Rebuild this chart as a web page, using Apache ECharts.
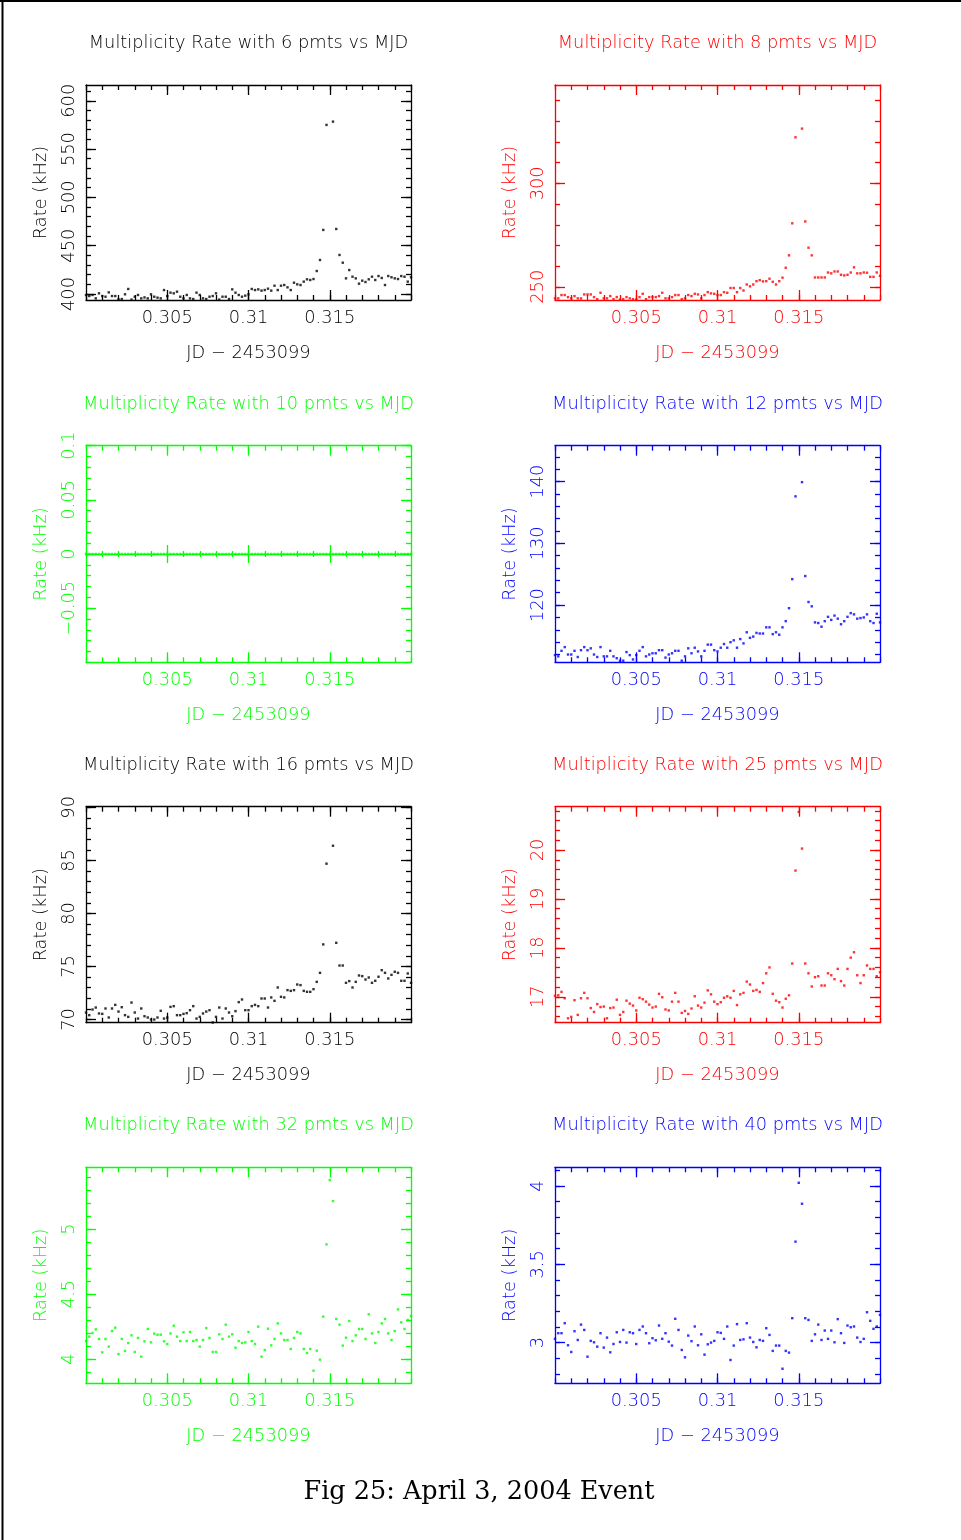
<!DOCTYPE html>
<html><head><meta charset="utf-8">
<script src="https://cdn.jsdelivr.net/npm/echarts@6/dist/echarts.min.js"></script>
<style>html,body{margin:0;padding:0;background:#fff}#c{width:961px;height:1540px}</style>
</head><body><div id="c"></div><script>
// JD - 2453099 (x values, common to all panels)
const jd = [
0.3000,0.3002,0.3004,0.3006,0.3008,0.3010,0.3012,0.3014,0.3016,0.3018,
0.3020,0.3022,0.3024,0.3026,0.3028,0.3030,0.3032,0.3034,0.3036,0.3038,
0.3040,0.3042,0.3044,0.3046,0.3048,0.3050,0.3052,0.3054,0.3056,0.3058,
0.3060,0.3062,0.3064,0.3066,0.3068,0.3070,0.3072,0.3074,0.3076,0.3078,
0.3080,0.3082,0.3084,0.3086,0.3088,0.3090,0.3092,0.3094,0.3096,0.3098,
0.3100,0.3102,0.3104,0.3106,0.3108,0.3110,0.3112,0.3114,0.3116,0.3118,
0.3120,0.3122,0.3124,0.3126,0.3128,0.3130,0.3132,0.3134,0.3136,0.3138,
0.3140,0.3142,0.3144,0.3146,0.3148,0.3150,0.3152,0.3154,0.3156,0.3158,
0.3160,0.3162,0.3164,0.3166,0.3168,0.3170,0.3172,0.3174,0.3176,0.3178,
0.3180,0.3182,0.3184,0.3186,0.3188,0.3190,0.3192,0.3194,0.3196,0.3198,
0.3200];

const rate6 = [
399.0,397.9,399.0,395.5,400.7,397.9,397.2,401.7,397.9,397.9,
394.5,394.8,399.7,405.2,394.2,397.2,399.0,395.5,396.5,395.5,
399.7,397.2,396.2,395.5,404.1,397.9,401.4,400.7,402.4,397.2,
395.5,399.0,395.5,394.8,401.4,399.0,395.5,394.8,397.2,397.9,
400.7,394.2,397.2,397.2,394.8,404.8,401.4,399.0,397.2,398.3,
399.7,405.2,404.1,404.8,403.5,404.1,405.5,403.5,408.6,404.1,
408.6,409.3,406.9,404.1,411.7,410.0,409.3,412.8,415.2,414.5,
415.5,423.8,435.2,466.3,575.0,null,578.4,467.3,440.4,432.4,
416.2,424.8,417.9,416.2,410.7,413.8,412.4,415.2,417.9,414.5,
418.6,416.6,409.3,418.6,417.3,416.2,415.5,418.6,417.9,412.8,
417.3];

const rate8 = [
244.4,244.4,246.0,246.0,245.0,244.4,245.5,244.4,244.4,246.3,
246.3,246.3,245.0,244.0,247.1,244.4,244.4,245.5,244.0,245.0,
243.8,244.0,245.0,244.4,244.0,243.8,245.0,246.6,244.0,245.0,
245.0,245.0,245.5,247.1,244.4,244.4,245.0,246.0,246.0,244.0,
244.4,246.0,245.5,246.6,246.3,244.4,246.0,247.4,246.8,246.6,
246.0,246.0,247.4,247.1,249.4,249.4,247.4,249.4,248.2,251.1,
250.2,251.1,252.7,253.2,252.6,252.7,253.9,252.4,251.1,252.7,
254.4,259.2,265.2,280.7,322.3,null,326.5,281.6,268.9,265.2,
254.5,254.5,254.5,254.5,256.9,256.5,257.4,257.4,255.8,255.5,
255.8,256.9,259.4,256.5,256.5,256.9,256.8,254.8,254.8,256.9,
255.3];

const rate10 = [
0,0,0,0,0,0,0,0,0,0,
0,0,0,0,0,0,0,0,0,0,
0,0,0,0,0,0,0,0,0,0,
0,0,0,0,0,0,0,0,0,0,
0,0,0,0,0,0,0,0,0,0,
0,0,0,0,0,0,0,0,0,0,
0,0,0,0,0,0,0,0,0,0,
0,0,0,0,0,0,0,0,0,0,
0,0,0,0,0,0,0,0,0,0,
0,0,0,0,0,0,0,0,0,0,
0];

const rate12 = [
111.9,111.7,112.6,113.2,112.0,112.0,112.6,111.6,112.7,113.2,
112.7,113.0,112.0,111.6,113.2,111.7,111.7,112.6,111.7,111.4,
111.0,111.0,112.4,111.9,111.2,111.9,112.6,113.2,111.7,112.0,
112.2,112.2,112.7,112.7,111.5,112.0,112.2,112.6,112.6,111.0,
111.7,113.0,112.2,113.1,112.5,111.7,112.6,113.6,113.6,112.7,
112.5,113.1,113.7,113.1,114.0,114.3,113.1,114.5,113.8,115.6,
114.7,114.9,115.5,115.4,115.4,116.4,116.4,115.3,115.6,115.2,
116.4,117.4,119.5,124.2,137.6,null,139.9,124.7,120.5,119.8,
117.2,117.1,116.5,117.4,118.1,117.6,118.3,117.8,116.9,117.4,
118.1,118.7,118.5,117.8,117.9,118.0,118.5,117.4,117.1,118.6,
117.2];

const rate16 = [
70.66,70.41,70.94,71.13,70.57,70.53,71.04,70.19,71.04,71.38,
70.75,71.16,70.41,70.25,71.60,70.66,70.09,71.04,70.31,70.19,
70.00,70.00,70.19,70.82,70.09,70.19,71.19,71.26,70.41,70.41,
70.53,70.60,70.88,71.26,70.09,70.25,70.57,70.75,70.88,69.72,
70.25,71.13,70.09,71.04,70.66,70.31,70.79,71.64,71.89,70.88,
70.88,71.26,71.38,71.26,71.98,71.98,71.13,72.08,71.76,73.02,
72.14,72.08,72.77,72.70,72.77,73.30,73.24,72.70,72.61,72.61,
72.86,73.55,74.40,77.08,84.69,null,86.38,77.23,75.09,75.09,
73.46,73.62,73.02,73.55,74.15,74.09,73.77,73.96,73.46,73.65,
74.03,74.65,74.40,73.87,74.21,74.50,74.40,73.65,73.65,74.34,
73.46];

const rate25 = [
17.02,17.03,17.10,16.97,16.56,16.59,16.93,16.63,16.97,17.08,
16.97,16.77,16.69,16.85,16.79,16.80,16.56,16.77,16.78,16.94,
16.63,16.69,16.92,16.86,16.82,16.72,16.98,16.95,16.90,16.84,
16.78,16.80,17.06,16.99,16.74,16.72,16.90,17.08,16.90,16.67,
16.71,16.65,16.76,17.01,16.82,16.78,16.88,17.13,17.05,16.90,
16.85,16.89,16.98,17.01,16.98,17.12,16.83,17.05,17.08,17.31,
17.25,17.12,17.14,17.10,17.28,17.48,17.60,17.06,16.92,16.89,
16.78,16.96,17.03,17.68,19.58,20.78,20.03,17.68,17.48,17.21,
17.40,17.42,17.23,17.23,17.48,17.44,17.36,17.57,17.32,17.23,
17.57,17.80,17.91,17.44,17.28,17.44,17.64,17.57,17.57,17.42,
17.50];

const rate32 = [
4.138,4.172,4.200,4.228,4.154,4.051,4.154,4.095,4.215,4.241,
4.038,4.154,4.062,4.123,4.182,4.054,4.162,4.018,4.136,4.231,
4.128,4.195,4.187,4.187,4.136,4.115,4.197,4.256,4.172,4.138,
4.205,4.138,4.208,4.138,4.146,4.095,4.146,4.238,4.162,4.054,
4.054,4.190,4.154,4.264,4.172,4.190,4.087,4.138,4.123,4.128,
4.208,4.138,4.115,4.249,4.018,4.069,4.233,4.105,4.154,4.274,
4.197,4.146,4.146,4.077,4.162,4.208,4.197,4.077,4.046,4.077,
3.910,4.064,3.995,4.326,4.882,5.377,5.215,4.308,4.264,4.103,
4.164,4.292,4.138,4.182,4.231,4.231,4.154,4.344,4.197,4.123,
4.208,4.274,4.308,4.197,4.146,4.215,4.382,4.282,4.231,4.300,
4.331];

const rate40 = [
3.024,3.060,3.060,3.124,2.983,2.940,3.073,3.017,3.115,3.081,
2.910,3.011,3.002,2.974,3.060,2.968,3.032,2.938,2.991,3.066,
3.004,3.081,3.000,3.066,3.060,2.991,3.081,3.103,3.060,2.996,
3.028,3.015,3.109,3.024,3.060,3.006,2.981,3.152,3.081,2.953,
2.906,3.045,3.009,3.103,2.983,3.053,2.923,2.989,3.000,3.011,
3.066,3.062,3.024,3.103,2.889,2.981,3.118,3.017,3.021,3.124,
3.032,3.004,2.970,3.017,3.011,3.092,3.049,2.947,2.981,2.981,
2.833,2.947,2.936,3.156,3.645,4.021,3.887,3.156,3.145,3.011,
3.053,3.115,3.017,3.077,3.024,3.077,3.002,3.150,3.060,2.998,
3.109,3.098,3.103,3.032,3.004,3.024,3.194,3.139,3.088,3.103,
3.177];

// tick labels
const xTickValues = [0.305, 0.31, 0.315];
const xTickLabels = ['0.305', '0.31', '0.315'];
const yTicks6 = [400, 450, 500, 550, 600];      const yLabels6 = ['400','450','500','550','600'];
const yTicks8 = [250, 300];                     const yLabels8 = ['250','300'];
const yTicks10 = [-0.05, 0, 0.05, 0.1];         const yLabels10 = ['\u22120.05','0','0.05','0.1'];
const yTicks12 = [120, 130, 140];               const yLabels12 = ['120','130','140'];
const yTicks16 = [70, 75, 80, 85, 90];          const yLabels16 = ['70','75','80','85','90'];
const yTicks25 = [17, 18, 19, 20];              const yLabels25 = ['17','18','19','20'];
const yTicks32 = [4, 4.5, 5];                   const yLabels32 = ['4','4.5','5'];
const yTicks40 = [3, 3.5, 4];                   const yLabels40 = ['3','3.5','4'];

const BLACK = '#000000', RED = '#ff0000', GREEN = '#00ff00', BLUE = '#0000ff';
const panels = [
  {pmts: 6,  color: BLACK, data: rate6,  yMin: 393.8, yMax: 616.3, ticks: yTicks6,  labels: yLabels6,  minor: 10},
  {pmts: 8,  color: RED,   data: rate8,  yMin: 243.6, yMax: 347.6, ticks: yTicks8,  labels: yLabels8,  minor: 10},
  {pmts: 10, color: GREEN, data: rate10, yMin: -0.1,  yMax: 0.1,   ticks: yTicks10, labels: yLabels10, minor: 0.01, zeroAxis: true},
  {pmts: 12, color: BLUE,  data: rate12, yMin: 110.74, yMax: 145.8, ticks: yTicks12, labels: yLabels12, minor: 2},
  {pmts: 16, color: BLACK, data: rate16, yMin: 69.7,  yMax: 90.06, ticks: yTicks16, labels: yLabels16, minor: 1},
  {pmts: 25, color: RED,   data: rate25, yMin: 16.47, yMax: 20.886, ticks: yTicks25, labels: yLabels25, minor: 0.2},
  {pmts: 32, color: GREEN, data: rate32, yMin: 3.813, yMax: 5.475, ticks: yTicks32, labels: yLabels32, minor: 0.1},
  {pmts: 40, color: BLUE,  data: rate40, yMin: 2.74,  yMax: 4.12,  ticks: yTicks40, labels: yLabels40, minor: 0.1}
];

const FONT = 'DejaVu Sans';
const FW = 200;
const FS = 17.8;
const LW = 1.3;
const X_MIN = 0.3, X_MAX = 0.32, X_MINOR = 0.001;
const colLeft = [86, 555];
const rowTop = [85, 445.7, 806.7, 1167.3];
const rowH = [215, 216.6, 216, 216];
const GW = 325;

function minorTicks(min, max, step) {
  const out = [];
  const a = Math.ceil(min / step - 1e-9), b = Math.floor(max / step + 1e-9);
  for (let i = a; i <= b; i++) out.push(+(i * step).toFixed(6));
  return out;
}
function lbl(v, vals, labels) {
  for (let i = 0; i < vals.length; i++) if (Math.abs(v - vals[i]) < 1e-9) return labels[i];
  return '';
}

const grids = [], xAxes = [], yAxes = [], series = [], graphics = [];
const xMinor = minorTicks(X_MIN, X_MAX, X_MINOR);

panels.forEach((p, k) => {
  const row = Math.floor(k / 2), col = k % 2;
  const c = p.color;
  grids.push({left: colLeft[col], top: rowTop[row], width: GW, height: rowH[row], containLabel: false});
  const gi = k;
  const xb = xAxes.length, yb = yAxes.length;
  const line = (show) => ({show, onZero: false, lineStyle: {color: c, width: LW}});
  const tick = (vals, len) => ({show: true, inside: true, length: len, customValues: vals, lineStyle: {color: c, width: LW}});
  const xBase = {type: 'value', gridIndex: gi, min: X_MIN, max: X_MAX, splitLine: {show: false}, axisLabel: {show: false}};
  const txt = {color: c, fontFamily: FONT, fontSize: FS, fontWeight: FW};
  // x axes
  xAxes.push(Object.assign({}, xBase, {
    position: 'bottom', axisLine: line(true), axisTick: tick(xTickValues, 10),
    axisLabel: Object.assign({show: true, customValues: xTickValues, margin: 9,
      formatter: v => lbl(v, xTickValues, xTickLabels)}, txt),
    name: 'JD \u2212 2453099', nameLocation: 'middle', nameGap: 44,
    nameTextStyle: txt
  }));
  xAxes.push(Object.assign({}, xBase, {position: 'bottom', axisLine: line(false), axisTick: tick(xMinor, 5)}));
  xAxes.push(Object.assign({}, xBase, {position: 'top', axisLine: line(true), axisTick: tick(xTickValues, 10)}));
  xAxes.push(Object.assign({}, xBase, {position: 'top', axisLine: line(false), axisTick: tick(xMinor, 5)}));
  // y axes
  const yMinor = minorTicks(p.yMin, p.yMax, p.minor);
  const yBase = {type: 'value', gridIndex: gi, min: p.yMin, max: p.yMax, splitLine: {show: false}, axisLabel: {show: false}};
  yAxes.push(Object.assign({}, yBase, {
    position: 'left', axisLine: line(true), axisTick: tick(p.ticks, 10),
    axisLabel: Object.assign({show: true, customValues: p.ticks, rotate: 90, margin: 8,
      formatter: v => lbl(v, p.ticks, p.labels)}, txt),
    name: 'Rate (kHz)', nameLocation: 'middle', nameGap: 36, nameRotate: 90,
    nameTextStyle: txt
  }));
  yAxes.push(Object.assign({}, yBase, {position: 'left', axisLine: line(false), axisTick: tick(yMinor, 5)}));
  yAxes.push(Object.assign({}, yBase, {position: 'right', axisLine: line(true), axisTick: tick(p.ticks, 10)}));
  yAxes.push(Object.assign({}, yBase, {position: 'right', axisLine: line(false), axisTick: tick(yMinor, 5)}));
  if (p.zeroAxis) {
    const zl = {show: true, onZero: true, onZeroAxisIndex: yb, lineStyle: {color: c, width: LW}};
    const zn = {show: false, onZero: true, onZeroAxisIndex: yb};
    xAxes.push(Object.assign({}, xBase, {position: 'bottom', axisLine: zl, axisTick: tick(xTickValues, 9)}));
    xAxes.push(Object.assign({}, xBase, {position: 'top', axisLine: zn, axisTick: tick(xTickValues, 9)}));
    xAxes.push(Object.assign({}, xBase, {position: 'bottom', axisLine: zn, axisTick: tick(xMinor, 3)}));
    xAxes.push(Object.assign({}, xBase, {position: 'top', axisLine: zn, axisTick: tick(xMinor, 3)}));
  }
  series.push({
    type: 'scatter', xAxisIndex: xb, yAxisIndex: yb, symbol: 'rect', symbolSize: 2.4,
    itemStyle: {color: c}, silent: true, clip: true,
    data: jd.map((x, i) => [x, p.data[i] == null ? '-' : p.data[i]])
  });
  graphics.push({
    type: 'text', x: colLeft[col] + GW / 2, y: rowTop[row] - 41.5, silent: true,
    style: {text: 'Multiplicity Rate with ' + p.pmts + ' pmts vs MJD', fill: c, fontFamily: FONT, fontSize: FS,
      fontWeight: FW, align: 'center', verticalAlign: 'middle'}
  });
});

graphics.push({type: 'line', silent: true, shape: {x1: 0, y1: 1, x2: 961, y2: 1}, style: {stroke: '#000', lineWidth: 2}});
graphics.push({type: 'line', silent: true, shape: {x1: 2.5, y1: 0, x2: 2.5, y2: 1540}, style: {stroke: '#000', lineWidth: 2}});
graphics.push({type: 'text', x: 479, y: 1492, silent: true,
  style: {text: 'Fig 25: April 3, 2004 Event', fill: '#000', fontFamily: 'DejaVu Serif', fontSize: 25.5,
    align: 'center', verticalAlign: 'middle'}});

const chart = echarts.init(document.getElementById('c'), null, {renderer: 'canvas'});
chart.setOption({
  animation: false,
  backgroundColor: '#ffffff',
  grid: grids, xAxis: xAxes, yAxis: yAxes, series: series, graphic: graphics
});
</script></body></html>
